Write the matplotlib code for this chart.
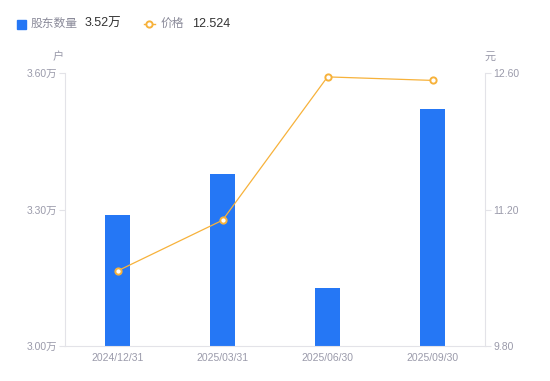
import matplotlib
matplotlib.use("Agg")
from matplotlib import pyplot as plt
from matplotlib.lines import Line2D
from matplotlib.patches import Rectangle

plt.rcParams['font.family'] = ['Liberation Sans', 'Noto Sans CJK SC', 'DejaVu Sans']

dates = ['2024/12/31', '2025/03/31', '2025/06/30', '2025/09/30']
holders = [3.288, 3.378, 3.128, 3.52]   # 万户
prices = [10.57, 11.09, 12.56, 12.524]  # 元
left_ticks = [3.00, 3.30, 3.60]
right_ticks = [9.80, 11.20, 12.60]

bar_color = '#2577F5'
line_color = '#F7B23B'
tick_color = '#9A9AAA'
axis_color = '#E3E3E8'

fig = plt.figure(figsize=(5.5, 3.81), dpi=100)
ax = fig.add_axes([65 / 550, 35 / 381, 420 / 550, 273 / 381])
ax2 = ax.twinx()

x = list(range(len(dates)))
ax.bar(x, [h - left_ticks[0] for h in holders], bottom=left_ticks[0],
       width=0.24, color=bar_color, zorder=2)
ax.set_xlim(-0.5, len(dates) - 0.5)
ax.set_ylim(left_ticks[0], left_ticks[-1])
ax.set_yticks(left_ticks)
ax.set_yticklabels([f'{v:.2f}万' for v in left_ticks])
ax.set_xticks(x)
ax.set_xticklabels(dates)

ax2.plot(x, prices, color=line_color, lw=0.9, marker='o', ms=4.5,
         mfc='white', mec=line_color, mew=1.4, zorder=3)
ax2.set_ylim(right_ticks[0], right_ticks[-1])
ax2.set_yticks(right_ticks)
ax2.set_yticklabels([f'{v:.2f}' for v in right_ticks])

for a in (ax, ax2):
    for s in a.spines.values():
        s.set_visible(False)
    a.tick_params(colors=tick_color, labelsize=7.5, length=4, width=0.8,
                  color=axis_color, pad=2)
ax.spines['left'].set_visible(True)
ax.spines['left'].set_color(axis_color)
ax.spines['bottom'].set_visible(True)
ax.spines['bottom'].set_color(axis_color)
ax2.spines['right'].set_visible(True)
ax2.spines['right'].set_color(axis_color)
ax.tick_params(axis='x', length=0, pad=5)

fig.text(58 / 550, 1 - 57 / 381, '户', color=tick_color, fontsize=8,
         ha='center', va='center')
fig.text(490 / 550, 1 - 57 / 381, '元', color=tick_color, fontsize=8,
         ha='center', va='center')

# legend
ly = 1 - 24 / 381
fig.patches.append(Rectangle((17 / 550, 1 - 29 / 381), 9 / 550, 9 / 381,
                             transform=fig.transFigure, color=bar_color))
fig.text(31 / 550, ly, '股东数量', color='#8A8A99', fontsize=8.5, va='center')
fig.text(85 / 550, ly, f'{holders[-1]:.2f}万', color='#333333', fontsize=9, va='center')
fig.lines.append(Line2D([144 / 550, 155 / 550], [ly, ly], transform=fig.transFigure,
                        color=line_color, lw=1))
fig.lines.append(Line2D([149.5 / 550], [ly], transform=fig.transFigure,
                        color=line_color, marker='o', ms=4.5,
                        mfc='white', mec=line_color, mew=1.4))
fig.text(161 / 550, ly, '价格', color='#8A8A99', fontsize=8.5, va='center')
fig.text(192 / 550, ly, f'{prices[-1]:.3f}', color='#333333', fontsize=9, va='center')

fig.savefig('out.png', dpi=100)
